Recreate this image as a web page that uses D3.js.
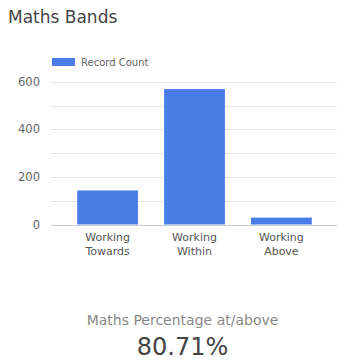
<!DOCTYPE html>
<html><head><meta charset="utf-8">
<script src="https://cdn.jsdelivr.net/npm/d3@7"></script>
<style>body{margin:0;background:#fff;}svg{display:block;font-family:"DejaVu Sans",sans-serif;}</style>
</head><body><svg id="c" width="339" height="361"></svg>
<script>
const categories = [["Working","Towards"],["Working","Within"],["Working","Above"]];
const recordCount = [143, 569, 29];
const yTicks = [0, 100, 200, 300, 400, 500, 600];
const yLabels = [0, 200, 400, 600];
const title = "Maths Bands";
const seriesName = "Record Count";
const kpiLabel = "Maths Percentage at/above";
const kpiValue = "80.71%";

const svg = d3.select("#c");
const x = d3.scaleBand().domain(d3.range(categories.length)).range([52, 337]).paddingInner(0.3).paddingOuter(0.29);
const y = d3.scaleLinear().domain([0, 600]).range([224.5, 81.7]);

svg.append("text").attr("x", 8).attr("y", 23).attr("font-size", 17).attr("fill", "#444").text(title);

// legend
svg.append("rect").attr("x", 52).attr("y", 58).attr("width", 23).attr("height", 8).attr("fill", "#4a7de8");
svg.append("text").attr("x", 81).attr("y", 65.5).attr("font-size", 10).attr("fill", "#666").text(seriesName);

// grid
svg.append("g").selectAll("line").data(yTicks).join("line")
  .attr("x1", 51).attr("x2", 337).attr("y1", d => Math.round(y(d)) + 0.5).attr("y2", d => Math.round(y(d)) + 0.5)
  .attr("stroke", d => d === 0 ? "#ccc" : "#e6e6e6").attr("stroke-width", 1);

// y axis labels
const yAxis = d3.axisLeft(y).tickValues(yLabels).tickSize(0).tickPadding(0);
const ga = svg.append("g").attr("transform", "translate(40,0)").call(yAxis);
ga.select(".domain").remove();
ga.selectAll("text").attr("font-size", 11.5).attr("fill", "#666").attr("font-family", "DejaVu Sans");

// bars
svg.append("g").selectAll("rect").data(recordCount).join("rect")
  .attr("x", (d, i) => x(i)).attr("width", x.bandwidth())
  .attr("y", d => y(d)).attr("height", d => y(0) - y(d)).attr("fill", "#4a7de8");

// category labels
const cl = svg.append("g").selectAll("text").data(categories).join("text")
  .attr("text-anchor", "middle").attr("font-size", 11).attr("fill", "#555")
  .attr("x", (d, i) => x(i) + x.bandwidth() / 2);
cl.selectAll("tspan").data(d => d).join("tspan")
  .attr("x", function () { return this.parentNode.getAttribute("x"); })
  .attr("y", (d, j) => 241 + j * 13.5).text(d => d);

// KPI
svg.append("text").attr("x", 182.5).attr("y", 325).attr("text-anchor", "middle").attr("font-size", 14).attr("fill", "#888").text(kpiLabel);
svg.append("text").attr("x", 182.5).attr("y", 355).attr("text-anchor", "middle").attr("font-size", 24).attr("fill", "#444").text(kpiValue);
</script></body></html>
